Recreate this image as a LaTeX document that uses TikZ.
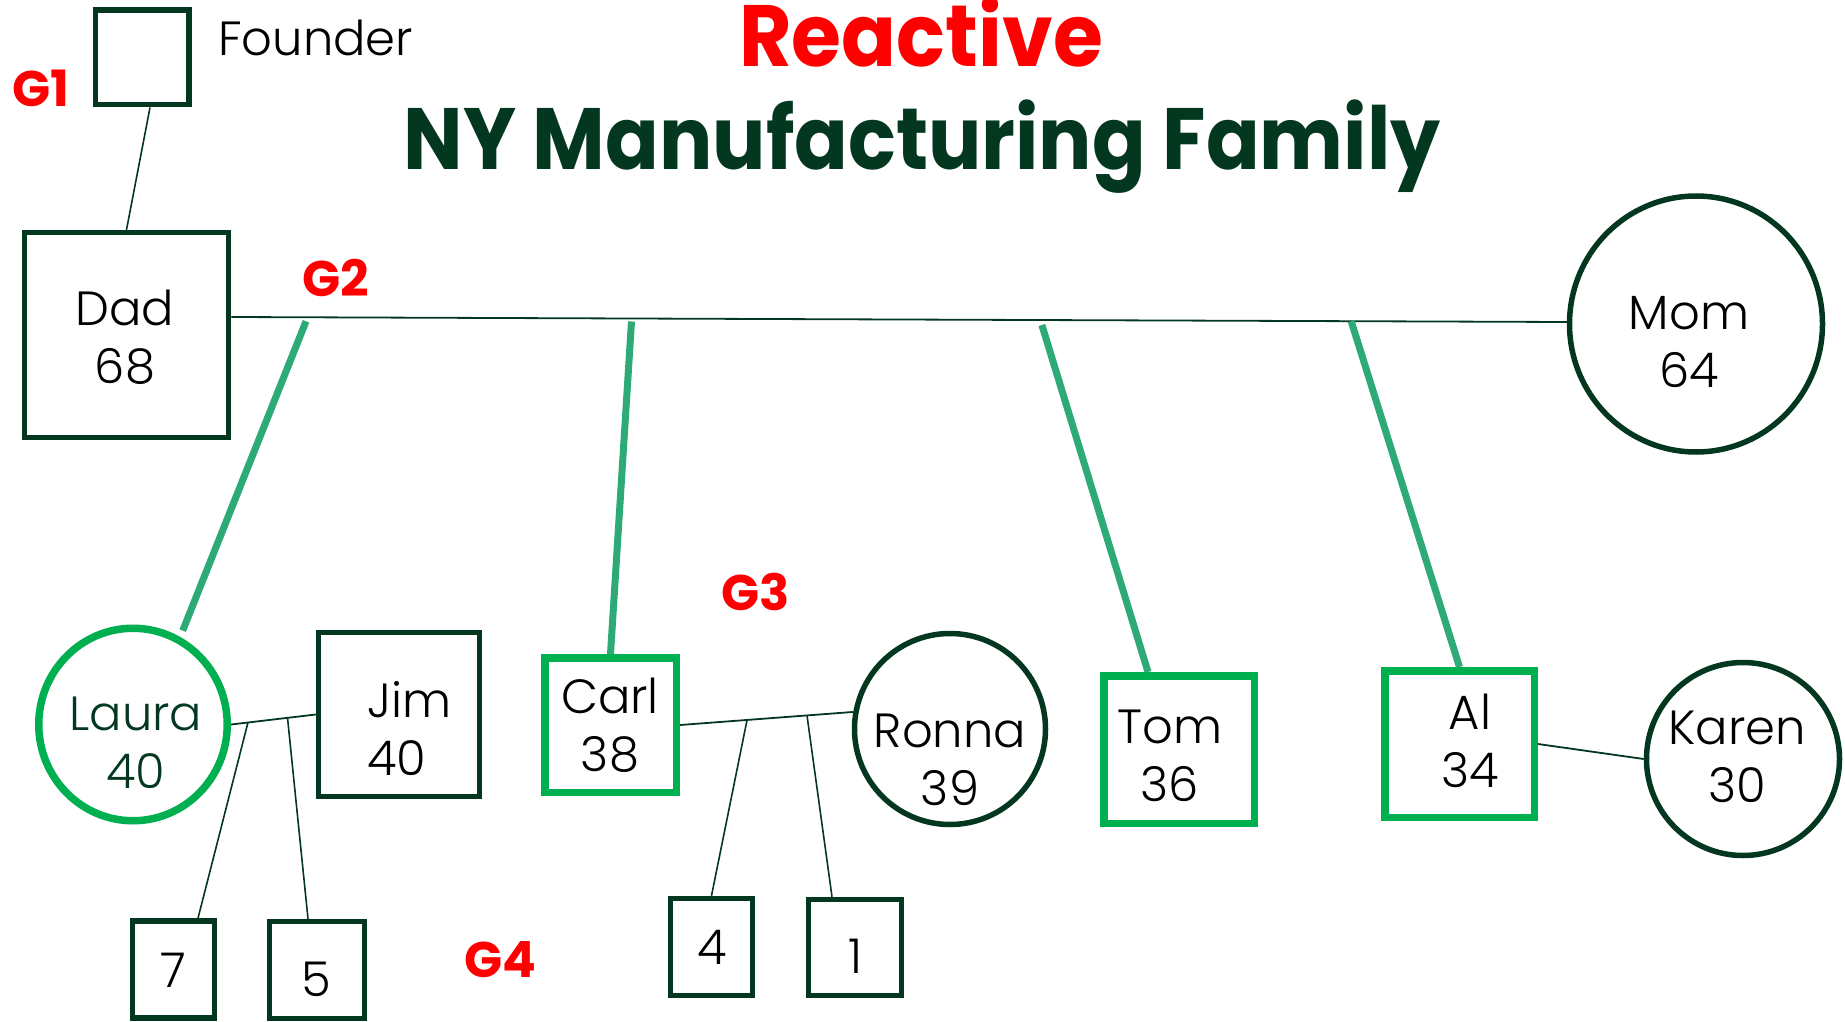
\documentclass[tikz,border=0pt]{standalone}
\usepackage{fontspec}
\setmainfont{Poppins}
\newfontfamily\thinfont{Poppins Light}
\usetikzlibrary{shapes.geometric,calc}
\definecolor{darkg}{RGB}{3,55,32}
\definecolor{boxg}{RGB}{0,176,80}
\definecolor{linkg}{RGB}{46,170,120}
\definecolor{gred}{RGB}{255,0,0}
\begin{document}
\begin{tikzpicture}[x=1pt,y=-1pt,
  male/.style={draw=darkg,line width=5.5pt,rectangle,inner sep=0pt},
  kinm/.style={draw=boxg,line width=7.5pt,rectangle,inner sep=0pt},
  female/.style={draw=darkg,line width=5.5pt,ellipse,inner sep=0pt},
  kinf/.style={draw=boxg,line width=7.5pt,ellipse,inner sep=0pt},
  lbl/.style={align=center,anchor=base,font=\thinfont\fontsize{48}{58}\selectfont,inner sep=0pt},
  gen/.style={text=gred,anchor=base,font=\bfseries\fontsize{50}{60}\selectfont,inner sep=0pt},
  headline/.style={anchor=base,font=\bfseries\fontsize{87}{100}\selectfont,inner sep=0pt},
  wed/.style={draw=darkg,line width=1.8pt},
  descent/.style={draw=darkg,line width=1.6pt},
  offspring/.style={draw=linkg,line width=7pt}]
\useasboundingbox (0,0) rectangle (1845,1022);

% titles
\node[headline,text=gred] (reactive) at (921,67) {\scalebox{0.93}[1]{Reactive}};
\node[headline,text=darkg] (title) at (922,169) {\scalebox{0.91}[1]{NY Manufacturing Family}};

% generation labels
\node[gen] (g1) at (41,107) {G1};
\node[gen] (g2) at (335.5,296) {G2};
\node[gen] (g3) at (755.5,610) {G3};
\node[gen] (g4) at (500,977) {G4};

% people shapes
\node[male,minimum width=93.5pt,minimum height=94.5pt] (founder) at (142,57.5) {};
\node[anchor=base west,font=\thinfont\fontsize{48}{58}\selectfont,inner sep=0pt] (foundertxt) at (218,56) {Founder};
\node[male,minimum width=204pt,minimum height=205pt] (dad) at (126.5,335) {};
\node[female,minimum width=253pt,minimum height=256pt] (mom) at (1696,324) {};
\node[kinf,minimum width=188.5pt,minimum height=192.5pt] (laura) at (133,724.5) {};
\node[male,minimum width=161pt,minimum height=164pt] (jim) at (399,714.5) {};
\node[kinm,minimum width=131.5pt,minimum height=134.5pt] (carl) at (610.5,725) {};
\node[female,minimum width=191pt,minimum height=191pt] (ronna) at (950,729) {};
\node[kinm,minimum width=150.5pt,minimum height=147.5pt] (tom) at (1179,749.5) {};
\node[kinm,minimum width=149.5pt,minimum height=146.5pt] (al) at (1459.5,744) {};
\node[female,minimum width=193pt,minimum height=193pt] (karen) at (1743,759) {};
\node[male,minimum width=82pt,minimum height=97pt] (c7) at (173.5,969.5) {};
\node[male,minimum width=95pt,minimum height=97pt] (c5) at (317,970) {};
\node[male,minimum width=82pt,minimum height=97pt] (c4) at (711.5,947) {};
\node[male,minimum width=93pt,minimum height=96pt] (c1) at (855,947.5) {};

% texts (anchor base = baseline of the last line)
\node[lbl] (dadtxt) at (125,383) {Dad\\68};
\node[lbl] (momtxt) at (1689,387) {Mom\\64};
\node[lbl,text=darkg] (lauratxt) at (136,788) {Laura\\40};
\node[lbl,align=left,anchor=base west] (jimtxt) at (367,775) {Jim\\40};
\node[lbl] (carltxt) at (610,771) {Carl\\38};
\node[lbl] (ronnatxt) at (950,805) {Ronna\\39};
\node[lbl] (tomtxt) at (1170,801) {Tom\\36};
\node[lbl] (altxt) at (1470,787) {Al\\34};
\node[lbl] (karentxt) at (1737,802) {Karen\\30};
\node[lbl] (c7txt) at (173,987) {7};
\node[lbl] (c5txt) at (316,996) {5};
\node[lbl] (c4txt) at (712,964) {4};
\node[lbl] (c1txt) at (855,973) {1};

% founder to dad
\draw[descent] ([xshift=8pt]founder.south) -- (dad.north);

% parents' marriage
\coordinate (wl) at ([yshift=18pt]dad.east);
\coordinate (wr) at ([yshift=2pt]mom.west);
\draw[wed] (wl) -- (wr);
\coordinate (k1) at ($(wl)!0.056!(wr)+(0,4)$);
\coordinate (k2) at ($(wl)!0.2997!(wr)+(0,3)$);
\coordinate (k3) at ($(wl)!0.607!(wr)+(0,5)$);
\coordinate (k4) at ($(wl)!0.8386!(wr)$);
\draw[offspring] (k1) -- ([shift={(3pt,6pt)}]laura.62);
\draw[offspring] (k2) -- (carl.north);
\draw[offspring] (k3) -- ([xshift=-31pt]tom.north);
\draw[offspring] (k4) -- (al.north);

% Laura - Jim
\draw[wed] (laura.east) -- (jim.west);
\coordinate (lj1) at ($(laura.east)!0.2!(jim.west)$);
\coordinate (lj2) at ($(laura.east)!0.667!(jim.west)$);
\draw[descent] (lj1) -- ([xshift=24.5pt]c7.north);
\draw[descent] (lj2) -- ([xshift=-9pt]c5.north);

% Carl - Ronna
\draw[wed] (carl.east) -- (ronna.170);
\coordinate (cr1) at ($(carl.east)!0.387!(ronna.170)$);
\coordinate (cr2) at ($(carl.east)!0.733!(ronna.170)$);
\draw[descent] (cr1) -- (c4.north);
\draw[descent] (cr2) -- ([xshift=-23pt]c1.north);

% Al - Karen
\draw[wed] (al.east) -- (karen.west);
\end{tikzpicture}
\end{document}
